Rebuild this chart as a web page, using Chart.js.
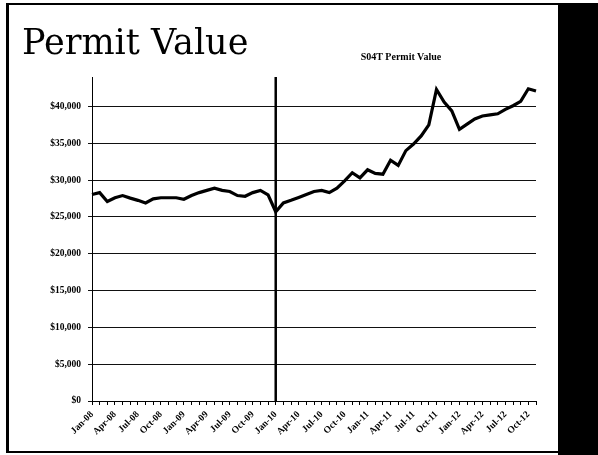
<!DOCTYPE html>
<html>
<head>
<meta charset="utf-8">
<script src="https://cdn.jsdelivr.net/npm/chart.js@4.4.1/dist/chart.umd.min.js"></script>
<style>
  html, body { margin: 0; padding: 0; background: #fff; }
  body { width: 598px; height: 455px; position: relative; overflow: hidden; }
  #frame { position: absolute; left: 6px; top: 3px; width: 552px; height: 446px;
           border-left: 3px solid #000; border-top: 2px solid #000; border-bottom: 2px solid #000; box-sizing: content-box; }
  #rightbar { position: absolute; left: 558px; top: 3px; width: 40px; height: 452px; background: #000; }
  #title { position: absolute; left: 22px; top: 25px; font-family: "DejaVu Serif", serif; font-size: 35px;
           line-height: 35px; color: #000; white-space: nowrap; }
  #subtitle { position: absolute; left: 301px; width: 200px; top: 51px; text-align: center;
              font-family: "Liberation Serif", serif; font-weight: bold; font-size: 10px; line-height: 12px; color: #000; }
  #wrap { position: absolute; left: 0; top: 0; width: 598px; height: 455px; }
</style>
</head>
<body>
<div id="frame"></div>
<div id="rightbar"></div>
<div id="wrap"><canvas id="c" width="598" height="455"></canvas></div>
<div id="title">Permit Value</div>
<div id="subtitle">S04T Permit Value</div>
<script>
// Categories: monthly, Jan-08 .. Nov-12
const categories = [
  'Jan-08','Feb-08','Mar-08','Apr-08','May-08','Jun-08','Jul-08','Aug-08','Sep-08','Oct-08','Nov-08','Dec-08',
  'Jan-09','Feb-09','Mar-09','Apr-09','May-09','Jun-09','Jul-09','Aug-09','Sep-09','Oct-09','Nov-09','Dec-09',
  'Jan-10','Feb-10','Mar-10','Apr-10','May-10','Jun-10','Jul-10','Aug-10','Sep-10','Oct-10','Nov-10','Dec-10',
  'Jan-11','Feb-11','Mar-11','Apr-11','May-11','Jun-11','Jul-11','Aug-11','Sep-11','Oct-11','Nov-11','Dec-11',
  'Jan-12','Feb-12','Mar-12','Apr-12','May-12','Jun-12','Jul-12','Aug-12','Sep-12','Oct-12','Nov-12'
];
// Series: S04T permit value (USD)
const permitValue = [
  28050, 28300, 27100, 27600, 27900, 27550, 27250, 26900, 27450, 27600, 27600, 27600,
  27400, 27900, 28300, 28600, 28900, 28600, 28450, 27900, 27800, 28300, 28600, 28000,
  25700, 26900, 27250, 27650, 28050, 28450, 28600, 28300, 28900, 29900, 31000, 30300,
  31400, 30900, 30800, 32700, 32000, 34000, 34900, 36000, 37500, 42300, 40600, 39400,
  36900, 37600, 38300, 38700, 38850, 39000, 39600, 40100, 40700, 42400, 42100
];
// Y tick values
const yTicks = [0, 5000, 10000, 15000, 20000, 25000, 30000, 35000, 40000];
const markerCategory = 'Jan-10';

const markerLine = {
  id: 'markerLine',
  afterDatasetsDraw(chart) {
    const x = chart.scales.x.getPixelForValue(categories.indexOf(markerCategory));
    const a = chart.chartArea;
    const ctx = chart.ctx;
    ctx.save();
    ctx.strokeStyle = '#000';
    ctx.lineWidth = 2.5;
    ctx.beginPath();
    ctx.moveTo(x, a.top);
    ctx.lineTo(x, a.bottom);
    ctx.stroke();
    ctx.restore();
  }
};

new Chart(document.getElementById('c'), {
  type: 'line',
  data: {
    labels: categories,
    datasets: [{
      label: 'S04T Permit Value',
      data: permitValue,
      borderColor: '#000',
      borderWidth: 3.2,
      pointRadius: 0,
      tension: 0,
      fill: false
    }]
  },
  options: {
    responsive: false,
    animation: false,
    events: [],
    layout: { padding: { top: 77, right: 62, bottom: 0, left: 0 } },
    plugins: { legend: { display: false }, title: { display: false }, tooltip: { enabled: false } },
    scales: {
      x: {
        type: 'category',
        offset: false,
        afterFit(s) { s.height = 54; },
        border: { display: true, color: '#000', width: 1 },
        grid: { display: true, drawOnChartArea: false, drawTicks: true, tickLength: 4, color: '#000' },
        ticks: {
          autoSkip: false, minRotation: 45, maxRotation: 45, padding: 4,
          color: '#000', font: { family: 'Liberation Serif', size: 9.5, weight: 'bold' },
          callback(v, i) { return i % 3 === 0 ? categories[i] : ''; }
        }
      },
      y: {
        min: 0, max: 44000,
        afterFit(s) { s.width = 92; },
        afterBuildTicks(s) { s.ticks = yTicks.map(v => ({ value: v })); },
        border: { display: true, color: '#000', width: 1 },
        grid: { color: '#111', lineWidth: 1, drawTicks: true, tickLength: 4 },
        ticks: {
          padding: 7, color: '#000',
          font: { family: 'Liberation Serif', size: 9.5, weight: 'bold' },
          callback(v) { return '$' + v.toLocaleString('en-US'); }
        }
      }
    }
  },
  plugins: [markerLine]
});
</script>
</body>
</html>
